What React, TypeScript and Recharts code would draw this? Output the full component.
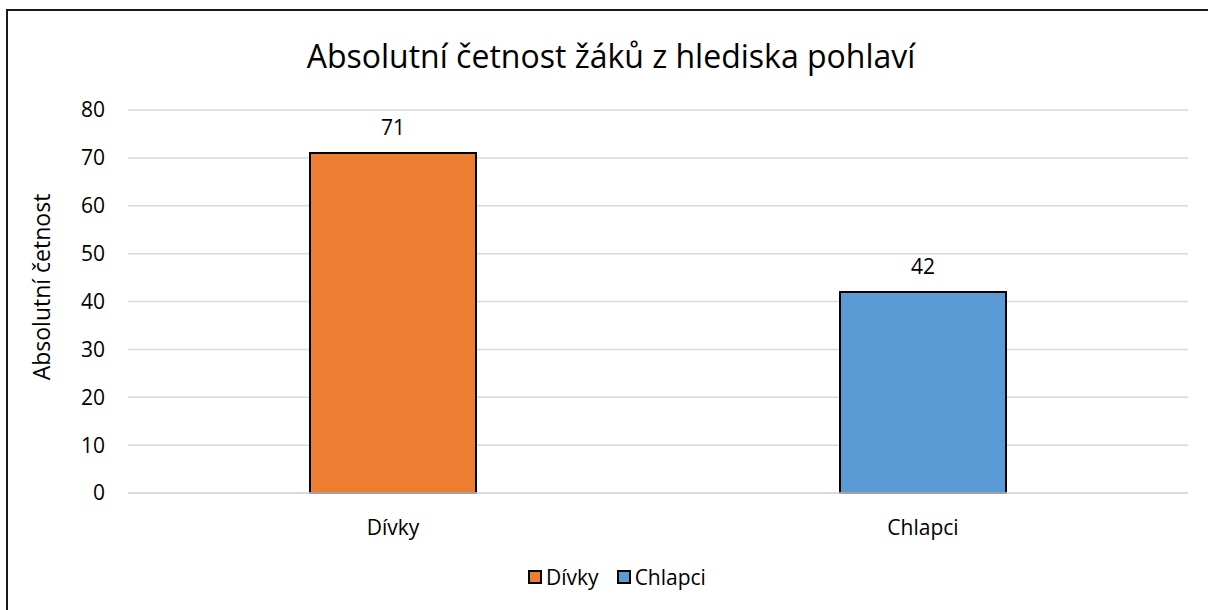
import { BarChart, Bar, XAxis, YAxis, CartesianGrid, Cell, LabelList } from 'recharts';

const categories = ['Dívky', 'Chlapci'];
const counts = [71, 42];
const colors = ['#ED7D31', '#5B9BD5'];
const yTicks = [0, 10, 20, 30, 40, 50, 60, 70, 80];

const data = categories.map((name, i) => ({ name, value: counts[i] }));

const FONT = '"Open Sans", sans-serif';

const LegendBox = () => (
  <div style={{ display: 'flex', justifyContent: 'center', alignItems: 'center', fontFamily: FONT, fontSize: 21, color: '#000' }}>
    {categories.map((c, i) => (
      <span key={c} style={{ display: 'inline-flex', alignItems: 'center', marginRight: i === 0 ? 18 : 0 }}>
        <span style={{ width: 10, height: 10, background: colors[i], border: '2px solid #000', marginRight: 4 }} />
        {c}
      </span>
    ))}
  </div>
);

export default function App() {
  return (
    <div style={{ position: 'absolute', left: 0, top: 0, width: 1208, height: 610, background: '#fff', overflow: 'hidden' }}>
      <div style={{ position: 'absolute', left: 6, top: 9, width: 1220, height: 620, border: '2px solid #1a1a1a', boxSizing: 'border-box' }} />
      <div style={{ position: 'absolute', left: 0, top: 34, width: 1222, textAlign: 'center', fontFamily: FONT, fontSize: 32, lineHeight: 'normal', color: '#000' }}>
        Absolutní četnost žáků z hlediska pohlaví
      </div>
      <div style={{ position: 'absolute', left: 0, top: 0 }}>
        <BarChart width={1208} height={610} data={data} margin={{ top: 110, right: 20, bottom: 87, left: 0 }} barSize={166}>
          <CartesianGrid vertical={false} stroke="#D9D9D9" strokeWidth={1.5} />
          <XAxis
            dataKey="name"
            height={30}
            axisLine={{ stroke: '#D9D9D9', strokeWidth: 1.5 }}
            tickLine={false}
            tickMargin={21}
            tick={{ fontFamily: FONT, fontSize: 21, fill: '#000' }}
          />
          <YAxis
            width={128}
            domain={[0, 80]}
            ticks={yTicks}
            axisLine={false}
            tickLine={false}
            tickMargin={17}
            tick={{ fontFamily: FONT, fontSize: 21, fill: '#000' }}
            label={{ value: 'Absolutní četnost', angle: -90, position: 'center', dx: -22, dy: -14.5, style: { fontFamily: FONT, fontSize: 23, fill: '#000' } }}
          />
          <Bar dataKey="value" stroke="#000" strokeWidth={2} isAnimationActive={false}>
            {data.map((d, i) => (
              <Cell key={d.name} fill={colors[i]} />
            ))}
            <LabelList dataKey="value" position="top" offset={18} style={{ fontFamily: FONT, fontSize: 21, fill: '#000' }} />
          </Bar>
        </BarChart>
      </div>
      <div style={{ position: 'absolute', left: 0, top: 563, width: 1234 }}>
        <LegendBox />
      </div>
    </div>
  );
}
